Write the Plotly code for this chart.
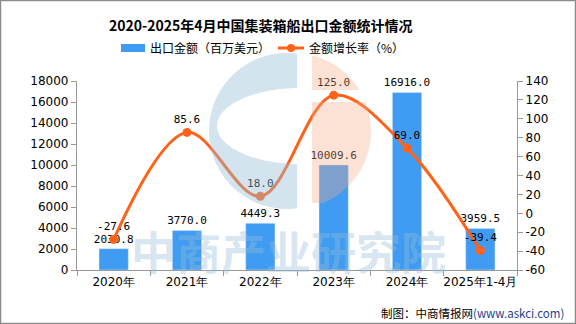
import numpy as np
import plotly.graph_objects as go

categories = ["2020年", "2021年", "2022年", "2023年", "2024年", "2025年1-4月"]
export_value = [2030.8, 3770.0, 4449.3, 10009.6, 16916.0, 3959.5]
growth_rate = [-27.6, 85.6, 18.0, 125.0, 69.0, -39.4]
left_ticks = list(range(0, 18001, 2000))
right_ticks = list(range(-60, 141, 20))
legend_names = ["出口金额（百万美元）", "金额增长率（%）"]

W, H = 576, 324
L, R, T, B = 77, 517, 81, 270
BAR_COLOR = "#3f9cf2"
LINE_COLOR = "#ff6218"

def px_to_paper(x, y):
    return (x - L) / (R - L), (B - y) / (B - T)

def poly_path(pts):
    s = ""
    for i, (x, y) in enumerate(pts):
        xp, yp = px_to_paper(x, y)
        s += ("M" if i == 0 else "L") + f"{xp:.4f},{yp:.4f} "
    return s + "Z"

fig = go.Figure()
fig.add_trace(go.Bar(
    x=categories, y=export_value, name=legend_names[0],
    marker_color=BAR_COLOR, width=0.4,
    text=[f"{v:.1f}" for v in export_value], textposition="outside", constraintext="none",
    textfont=dict(size=11, color="#000", family="DejaVu Sans Mono"),
    cliponaxis=False, yaxis="y", showlegend=False,
))
fig.add_trace(go.Scatter(
    x=categories, y=growth_rate, name=legend_names[1], yaxis="y2",
    mode="lines+markers+text", line=dict(color=LINE_COLOR, width=3, shape="spline", smoothing=1.0),
    marker=dict(size=9, color=LINE_COLOR),
    text=[f"{v:.1f}" for v in growth_rate], textposition="top center",
    textfont=dict(size=11, color="#000", family="DejaVu Sans Mono"),
    cliponaxis=False, showlegend=False,
))

# watermark logo
cx, cy, r = 287, 131, 78
pts = []
a_start = np.arctan2(-(np.sqrt(r**2 - (297 - cx)**2)), 297 - cx)
for a in np.linspace(a_start, a_start - (2*np.pi - 2*abs(a_start)), 80):
    pts.append((cx + r*np.cos(a), cy + r*np.sin(a)))
ex, ey, ea, eb = 300, 126, 83, 38
yb = ey + eb*np.sqrt(1 - ((297 - ex)/ea)**2)
yt = ey - eb*np.sqrt(1 - ((297 - ex)/ea)**2)
pts.append((297, yb))
t1 = np.arccos((297 - ex)/ea)
for t in np.linspace(t1, 2*np.pi - t1, 80):
    pts.append((ex + ea*np.cos(t), ey + eb*np.sin(t)))
pts.append((297, yt))
blue_logo = poly_path(pts)

def orange_part(y0, y1):
    ys = np.linspace(y0, y1, 60)
    right = [(cx + np.sqrt(max(r**2 - (y - cy)**2, 0)) + 6, y) for y in ys]
    return poly_path([(312, y0)] + right + [(312, y1)])

shapes = [
    dict(type="path", path=blue_logo, xref="paper", yref="paper",
         fillcolor="rgba(150,190,215,0.42)", line=dict(width=0), layer="above"),
    dict(type="path", path=orange_part(cy - r + 3, 90), xref="paper", yref="paper",
         fillcolor="rgba(245,170,135,0.35)", line=dict(width=0), layer="above"),
    dict(type="path", path=orange_part(102, cy + r - 6), xref="paper", yref="paper",
         fillcolor="rgba(245,170,135,0.35)", line=dict(width=0), layer="above"),
]
bx0, by0 = px_to_paper(0.5, 323.5)
bx1, by1 = px_to_paper(575.5, 0.5)
shapes.append(dict(type="rect", xref="paper", yref="paper", x0=bx0, y0=by0, x1=bx1, y1=by1,
                   line=dict(color="#8c8c8c", width=1.5), fillcolor="rgba(0,0,0,0)"))

# custom legend
lx0, ly0 = px_to_paper(121, 52)
lx1, ly1 = px_to_paper(145, 44)
shapes.append(dict(type="rect", xref="paper", yref="paper", x0=lx0, y0=ly0, x1=lx1, y1=ly1,
                   fillcolor=BAR_COLOR, line=dict(width=0)))
ox0, oy = px_to_paper(278, 48)
ox1, _ = px_to_paper(304, 48)
shapes.append(dict(type="line", xref="paper", yref="paper", x0=ox0, y0=oy, x1=ox1, y1=oy,
                   line=dict(color=LINE_COLOR, width=3)))
mx0, my0 = px_to_paper(287, 52)
mx1, my1 = px_to_paper(295, 44)
shapes.append(dict(type="circle", xref="paper", yref="paper", x0=mx0, y0=my0, x1=mx1, y1=my1,
                   fillcolor=LINE_COLOR, line=dict(width=0)))

wx, wy = px_to_paper(288, 250)
fx, fy = px_to_paper(566, 313)
tx, ty = px_to_paper(261, 25)
l1x, l1y = px_to_paper(148, 48)
l2x, _ = px_to_paper(307, 48)
annotations = [
    dict(text="<b>中商产业研究院</b>", x=wx, y=wy, xref="paper", yref="paper", showarrow=False,
         font=dict(size=45, color="rgba(150,190,215,0.40)", family="Noto Sans CJK SC"),
         xanchor="center", yanchor="middle"),
    dict(text="制图：中商情报网<span style='color:#1f3f8f'>(www.askci.com)</span>", x=fx, y=fy,
         xref="paper", yref="paper", showarrow=False, xanchor="right", yanchor="middle",
         font=dict(size=11.5, color="#000", family="Noto Sans CJK SC")),
    dict(text="<b>2020-2025年4月中国集装箱船出口金额统计情况</b>", x=tx, y=ty, xref="paper", yref="paper",
         showarrow=False, xanchor="center", yanchor="middle",
         font=dict(size=14, color="#000", family="Noto Sans CJK SC")),
    dict(text=legend_names[0], x=l1x, y=l1y, xref="paper", yref="paper", showarrow=False,
         xanchor="left", yanchor="middle", font=dict(size=12, color="#000", family="Noto Sans CJK SC")),
    dict(text=legend_names[1], x=l2x, y=l1y, xref="paper", yref="paper", showarrow=False,
         xanchor="left", yanchor="middle", font=dict(size=12, color="#000", family="Noto Sans CJK SC")),
]

axis_common = dict(showgrid=False, zeroline=False, showline=True, linecolor="#999", linewidth=1.2,
                   ticks="outside", ticklen=5, tickcolor="#999", automargin=False,
                   tickfont=dict(size=12, color="#000", family="DejaVu Sans"))

fig.update_layout(
    width=W, height=H, margin=dict(l=L, r=W - R, t=T, b=H - B),
    paper_bgcolor="white", plot_bgcolor="white",
    showlegend=False,
    xaxis=dict(**axis_common, tickson="boundaries", type="category", tickangle=0,
               range=[-0.5, len(categories) - 0.5]),
    yaxis=dict(**axis_common, range=[0, 18000], tickvals=left_ticks,
               ticktext=[str(v) for v in left_ticks]),
    yaxis2=dict(**axis_common, overlaying="y", side="right", range=[-60, 140], tickvals=right_ticks,
                ticktext=[str(v) for v in right_ticks]),
    shapes=shapes, annotations=annotations,
    bargap=0.6,
)
fig.write_html("out.html")
